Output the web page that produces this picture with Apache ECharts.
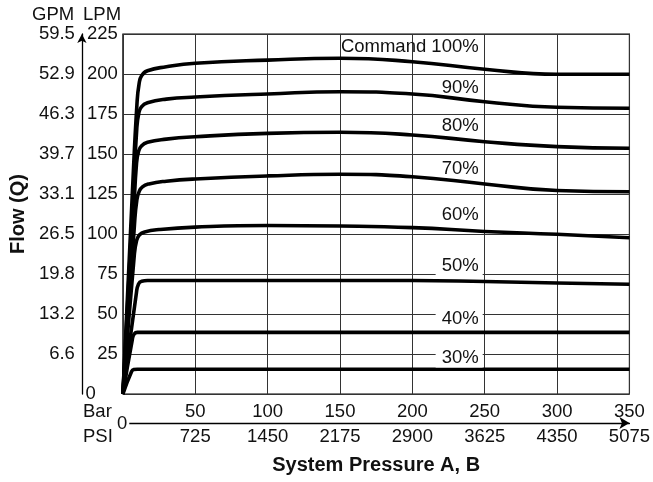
<!DOCTYPE html>
<html>
<head>
<meta charset="utf-8">
<script src="https://cdn.jsdelivr.net/npm/echarts@6.0.0/dist/echarts.min.js"></script>
<style>
  html, body { margin: 0; background: #fff; }
  #chart { width: 653px; height: 482px; }
</style>
</head>
<body>
<div id="chart"></div>
<script>
// tick labels
var barLabels = ['', '50', '100', '150', '200', '250', '300', '350'];
var psiLabels = ['', '725', '1450', '2175', '2900', '3625', '4350', '5075'];
var gpmLabels = ['', '6.6', '13.2', '19.8', '26.5', '33.1', '39.7', '46.3', '52.9', '59.5'];

// flow curves, [pressure bar, flow LPM]
var flow100 = [[0, 0], [6.6, 127], [9.7, 181], [11.2, 194], [13, 199], [17, 202], [30, 204.5], [50, 206.7], [100, 208.7], [150, 209.8], [200, 207.7], [250, 203], [300, 199.8], [350, 199.8]];
var flow90 = [[0, 0], [7, 122], [9.6, 166], [11, 175.5], [12.8, 179.5], [17, 182], [30, 184.3], [50, 185.6], [100, 187.5], [150, 188.9], [200, 187.5], [250, 182.7], [300, 179.2], [350, 178.6]];
var flow80 = [[0, 0], [7.5, 115], [9.4, 144], [10.8, 151.5], [12.8, 155], [17, 157.3], [30, 159.3], [50, 160.8], [100, 162.9], [150, 163.6], [200, 161.9], [250, 157.7], [300, 154.6], [350, 153.6]];
var flow70 = [[0, 0], [8, 106], [9.6, 121], [11.2, 126.5], [13.5, 129.5], [18, 131.3], [30, 133], [50, 134.4], [100, 136.3], [150, 137.3], [200, 135.8], [250, 131.3], [300, 127.2], [350, 126.4]];
var flow60 = [[0, 0], [7.8, 86], [9.5, 96], [11.5, 99.5], [15, 101.3], [25, 102.8], [50, 104.3], [100, 105.3], [150, 105], [200, 104], [250, 101.6], [300, 99.8], [350, 97.7]];
var flow50 = [[0, 0], [9.3, 63], [10.8, 68.8], [13, 70.5], [17, 70.9], [200, 70.9], [250, 70.3], [300, 69.4], [350, 68.6]];
var flow40 = [[0, 0], [6.5, 34], [7.8, 37.5], [10, 38.5], [350, 38.5]];
var flow30 = [[0, 0], [6, 14], [7.5, 15.3], [10, 15.5], [350, 15.5]];

var font = 'Liberation Sans, Arial, sans-serif';
var ink = '#111';
var size = 18.5;

// masked = label sits on a grid line, so give it a white box
function curve(data, text, at, masked) {
  return {
    type: 'line',
    data: data,
    showSymbol: false,
    smooth: 0.5,
    lineStyle: { color: '#000', width: 3.6 },
    markPoint: {
      symbol: 'circle',
      symbolSize: 0,
      silent: true,
      label: {
        show: true,
        position: 'left',
        distance: 0,
        formatter: function (p) { return p.name; },
        color: ink,
        fontFamily: font,
        fontSize: size,
        backgroundColor: masked ? '#fff' : 'transparent',
        padding: [0, 4, 0, 6]
      },
      data: [{ name: text, coord: at }]
    }
  };
}

var myChart = echarts.init(document.getElementById('chart'));

var option = {
  animation: false,
  backgroundColor: '#fff',
  textStyle: { fontFamily: font },
  grid: {
    left: 119, right: 23, top: 34, bottom: 88,
    show: true, borderColor: '#000', borderWidth: 1.2
  },
  xAxis: [{
    type: 'value', min: 0, max: 350, interval: 50,
    axisLine: { show: false }, axisTick: { show: false },
    splitLine: { lineStyle: { color: '#333', width: 1 } },
    axisLabel: {
      margin: 8, color: ink, fontSize: size, fontFamily: font,
      formatter: function (v) { return barLabels[Math.round(v / 50)]; }
    }
  }, {
    type: 'value', min: 0, max: 350, interval: 50, position: 'bottom', offset: 29,
    axisLine: { show: true, onZero: false, symbol: ['none', 'arrow'], symbolSize: [9, 10], lineStyle: { color: '#000', width: 1.3 } },
    axisTick: { show: false }, splitLine: { show: false },
    axisLabel: {
      margin: 4, color: ink, fontSize: size, fontFamily: font,
      formatter: function (v) { return psiLabels[Math.round(v / 50)]; }
    },
    name: 'System Pressure A, B', nameLocation: 'middle', nameGap: 32,
    nameTextStyle: { fontSize: 20, fontWeight: 'bold', color: ink, fontFamily: font }
  }],
  yAxis: [{
    type: 'value', min: 0, max: 225, interval: 25,
    axisLine: { show: false }, axisTick: { show: false },
    splitLine: { lineStyle: { color: '#333', width: 1 } },
    axisLabel: {
      margin: 5, color: ink, fontSize: size, fontFamily: font,
      formatter: function (v) { return v === 0 ? '{z|0}' : String(v); },
      rich: { z: { fontSize: size, fontFamily: font, color: ink, padding: [0, 22, 0, 0] } }
    }
  }, {
    type: 'value', min: 0, max: 225, interval: 25, position: 'left', offset: 41,
    axisLine: { show: true, onZero: false, symbol: ['none', 'arrow'], symbolSize: [7, 9], lineStyle: { color: '#000', width: 1.3 } },
    axisTick: { show: false }, splitLine: { show: false },
    axisLabel: {
      margin: 7, color: ink, fontSize: size, fontFamily: font,
      formatter: function (v) { return gpmLabels[Math.round(v / 25)]; }
    },
    name: 'Flow (Q)', nameLocation: 'middle', nameRotate: 90, nameGap: 50,
    nameTextStyle: { fontSize: 20, fontWeight: 'bold', color: ink, fontFamily: font }
  }],
  graphic: [
    { type: 'text', left: 32, top: 5, style: { text: 'GPM', fill: ink, font: size + 'px ' + font } },
    { type: 'text', left: 83, top: 5, style: { text: 'LPM', fill: ink, font: size + 'px ' + font } },
    { type: 'text', left: 83, top: 402, style: { text: 'Bar', fill: ink, font: size + 'px ' + font } },
    { type: 'text', left: 83, top: 427, style: { text: 'PSI', fill: ink, font: size + 'px ' + font } },
    { type: 'text', left: 115, top: 414, z: 100, style: { text: '0', fill: ink, font: size + 'px ' + font, backgroundColor: '#fff', padding: [0, 2, 0, 2] } }
  ],
  series: [
    curve(flow100, 'Command 100%', [248.6, 216.9]),
    curve(flow90, '90%', [248.6, 191]),
    curve(flow80, '80%', [248.6, 167.5]),
    curve(flow70, '70%', [248.6, 140.6]),
    curve(flow60, '60%', [248.6, 111.9]),
    curve(flow50, '50%', [248.6, 80], true),
    curve(flow40, '40%', [248.6, 47.2], true),
    curve(flow30, '30%', [248.6, 22.5], true)
  ]
};

myChart.setOption(option);
</script>
</body>
</html>
